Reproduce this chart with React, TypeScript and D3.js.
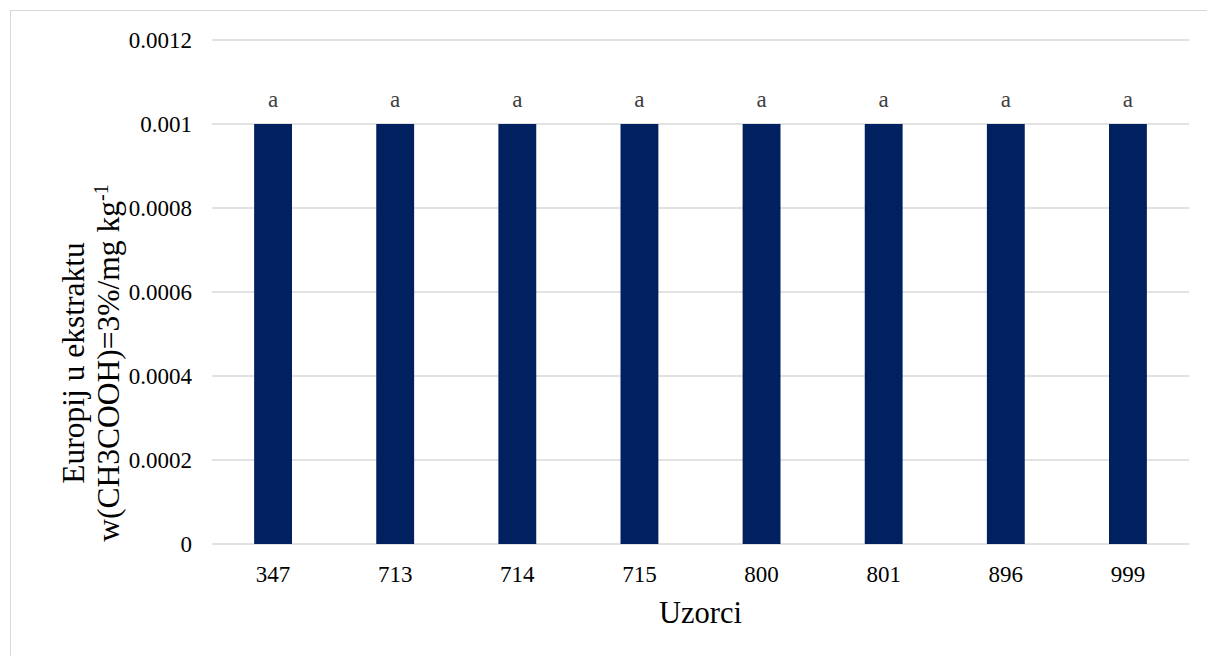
import React, { useEffect, useRef } from "react";
import * as d3 from "d3";

const categories = ["347", "713", "714", "715", "800", "801", "896", "999"];
const values = [0.001, 0.001, 0.001, 0.001, 0.001, 0.001, 0.001, 0.001];
const letters = ["a", "a", "a", "a", "a", "a", "a", "a"];
const yTicks = [0, 0.0002, 0.0004, 0.0006, 0.0008, 0.001, 0.0012];
const yTickLabels = ["0", "0.0002", "0.0004", "0.0006", "0.0008", "0.001", "0.0012"];

const W = 1207;
const H = 656;
const left = 212;
const right = 1189;
const top = 40;
const bottom = 544;
const FF = "Tinos, 'Liberation Serif', 'Times New Roman', serif";

export default function App() {
  const ref = useRef<SVGSVGElement | null>(null);
  useEffect(() => {
    const svg = d3.select(ref.current);
    svg.selectAll("*").remove();
    const x = d3.scaleBand<string>().domain(categories).range([left, right]).paddingInner(0.69).paddingOuter(0.345);
    const y = d3.scaleLinear().domain([0, 0.0012]).range([bottom, top]);

    svg.append("rect").attr("x", 0).attr("y", 0).attr("width", W).attr("height", H).attr("fill", "#fff");
    svg.append("rect").attr("x", 10.5).attr("y", 10.5).attr("width", W + 10).attr("height", H + 10)
      .attr("fill", "none").attr("stroke", "#d9d9d9").attr("stroke-width", 1);

    const g = svg.append("g");
    yTicks.forEach((t, i) => {
      g.append("line").attr("x1", left).attr("x2", right).attr("y1", y(t)).attr("y2", y(t))
        .attr("stroke", "#d9d9d9").attr("stroke-width", 1.3);
      g.append("text").attr("x", 192).attr("y", y(t)).attr("dy", "0.35em").attr("text-anchor", "end")
        .style("font-family", FF).style("font-size", "23px").attr("fill", "#000").text(yTickLabels[i]);
    });

    categories.forEach((c, i) => {
      const bx = x(c) as number;
      const cx = bx + x.bandwidth() / 2;
      g.append("rect").attr("x", bx).attr("y", y(values[i])).attr("width", x.bandwidth())
        .attr("height", y(0) - y(values[i])).attr("fill", "#00205f");
      g.append("text").attr("x", cx).attr("y", y(values[i]) - 17).attr("text-anchor", "middle")
        .style("font-family", FF).style("font-size", "23px").attr("fill", "#404040").text(letters[i]);
      g.append("text").attr("x", cx).attr("y", y(0) + 38).attr("text-anchor", "middle")
        .style("font-family", FF).style("font-size", "23px").attr("fill", "#000").text(c);
    });

    svg.append("text").attr("x", (left + right) / 2).attr("y", 623).attr("text-anchor", "middle")
      .style("font-family", FF).style("font-size", "30.5px").attr("fill", "#000").text("Uzorci");

    const yt = svg.append("g").attr("transform", "translate(0,363) rotate(-90)");
    yt.append("text").attr("x", 0).attr("y", 84).attr("text-anchor", "middle")
      .style("font-family", FF).style("font-size", "31.5px").attr("fill", "#000").text("Europij u ekstraktu");
    const l2 = yt.append("text").attr("x", 0).attr("y", 119).attr("text-anchor", "middle")
      .style("font-family", FF).style("font-size", "31.5px").attr("fill", "#000");
    l2.append("tspan").text("w(CH3COOH)=3%/mg kg");
    l2.append("tspan").attr("baseline-shift", "super").style("font-size", "20px").text("-1");
  }, []);
  return <svg ref={ref} width={W} height={H} style={{ position: "absolute", left: 0, top: 0 }} />;
}
